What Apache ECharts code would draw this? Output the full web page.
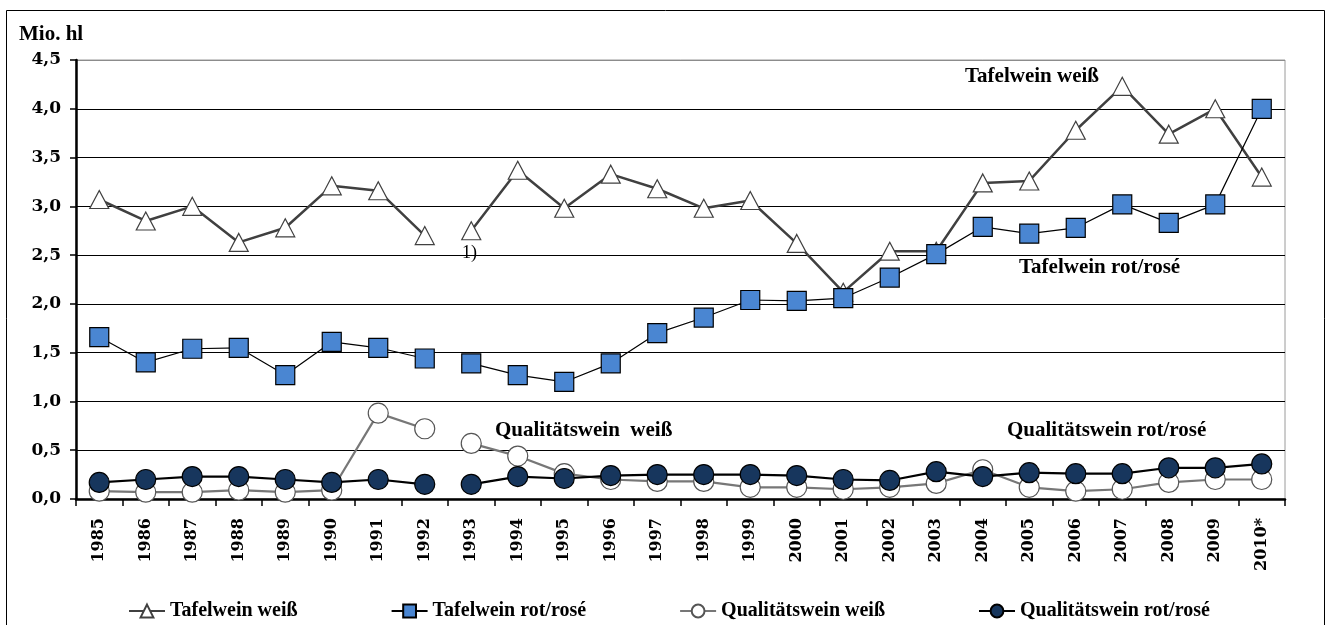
<!DOCTYPE html>
<html>
<head>
<meta charset="utf-8">
<script src="https://cdn.jsdelivr.net/npm/echarts@6/dist/echarts.min.js"></script>
<style>
html,body{margin:0;padding:0;background:#fff;}
#chart{width:1328px;height:625px;}
</style>
</head>
<body>
<div id="chart"></div>
<script>
var categories = ['1985','1986','1987','1988','1989','1990','1991','1992','1993','1994','1995','1996','1997','1998','1999','2000','2001','2002','2003','2004','2005','2006','2007','2008','2009','2010*'];
var tafelWeiss = [3.07,2.85,3.00,2.63,2.78,3.21,3.16,2.70,2.75,3.37,2.98,3.33,3.18,2.98,3.06,2.62,2.12,2.54,2.54,3.24,3.26,3.78,4.23,3.74,4.00,3.30];
var tafelRot   = [1.66,1.40,1.54,1.55,1.27,1.61,1.55,1.44,1.39,1.27,1.20,1.39,1.70,1.86,2.04,2.03,2.06,2.27,2.51,2.79,2.72,2.78,3.02,2.83,3.02,4.00];
var qualWeiss  = [0.08,0.07,0.07,0.09,0.07,0.09,0.88,0.72,0.57,0.44,0.26,0.20,0.18,0.18,0.12,0.12,0.10,0.12,0.16,0.30,0.12,0.08,0.10,0.17,0.20,0.20];
var qualRot    = [0.17,0.20,0.23,0.23,0.20,0.17,0.20,0.15,0.15,0.23,0.21,0.24,0.25,0.25,0.25,0.24,0.20,0.19,0.28,0.23,0.27,0.26,0.26,0.32,0.32,0.36];
var seriesNames = ['Tafelwein weiß','Tafelwein rot/rosé','Qualitätswein weiß','Qualitätswein rot/rosé'];
var yTicks = [0,0.5,1,1.5,2,2.5,3,3.5,4,4.5];
var breakAfter = 7; // line gap between 1992 and 1993

var FONT = '"Liberation Serif","Times New Roman",serif';
var NUMFONT = '"DejaVu Serif","Liberation Serif",serif';

function part(arr, first) {
  return arr.map(function(v,i){ return first ? (i<=breakAfter ? v : null) : (i>breakAfter ? v : null); });
}

var styles = [
  {symbol:'triangle', size:[19,18], line:{color:'#404040', width:2.5}, item:{color:'#ffffff', borderColor:'#404040', borderWidth:1.2}},
  {symbol:'rect', size:19, line:{color:'#000000', width:1.2}, item:{color:'#4a86d2', borderColor:'#000000', borderWidth:1.2}},
  {symbol:'circle', size:20, line:{color:'#777777', width:2.2}, item:{color:'#ffffff', borderColor:'#555555', borderWidth:1.2}},
  {symbol:'circle', size:20, line:{color:'#000000', width:2.2}, item:{color:'#17365d', borderColor:'#000000', borderWidth:1.2}}
];
var dataSets = [tafelWeiss, tafelRot, qualWeiss, qualRot];

var series = [];
dataSets.forEach(function(arr, k){
  [true,false].forEach(function(first){
    series.push({
      name: seriesNames[k],
      type: 'line',
      data: part(arr, first),
      connectNulls: false,
      symbol: styles[k].symbol,
      symbolSize: styles[k].size,
      showAllSymbol: true,
      lineStyle: styles[k].line,
      itemStyle: styles[k].item,
      emphasis: {disabled: true},
      z: 2 + k,
      animation: false
    });
  });
});

var chart = echarts.init(document.getElementById('chart'));
var gridColors = yTicks.map(function(v,i){ return i === yTicks.length-1 ? '#8c8c8c' : '#000000'; });

function txt(x, y, s, font) {
  return {type:'text', x:x, y:y, silent:true, style:{text:s, font:font, fill:'#000', verticalAlign:'middle', align:'left'}};
}

chart.setOption({
  backgroundColor: '#ffffff',
  animation: false,
  textStyle: {fontFamily: FONT},
  grid: {left: 76, right: 43, top: 60, bottom: 126, show: true, borderColor: '#9a9a9a', borderWidth: 1},
  xAxis: {
    type: 'category',
    data: categories,
    boundaryGap: true,
    axisLine: {lineStyle: {color: '#000', width: 2.5}},
    axisTick: {show: true, length: 7, inside: false, alignWithLabel: false, lineStyle: {color: '#000', width: 1.5}},
    axisLabel: {rotate: 90, margin: 19, color: '#000', fontSize: 16, fontWeight: 'bold', fontFamily: NUMFONT, interval: 0}
  },
  yAxis: {
    type: 'value',
    min: 0, max: 4.5, interval: 0.5,
    axisLine: {show: true, lineStyle: {color: '#000', width: 2.5}},
    axisTick: {show: true, length: 6, lineStyle: {color: '#000', width: 1.5}},
    splitLine: {show: true, lineStyle: {color: gridColors, width: 1.2}},
    axisLabel: {margin: 15, color: '#000', fontSize: 17, fontWeight: 'bold', fontFamily: NUMFONT,
      formatter: function(v){ return v.toFixed(1).replace('.', ','); }}
  },
  legend: {
    data: seriesNames,
    left: 123, top: 596,
    itemGap: 93,
    itemWidth: 36, itemHeight: 16,
    textStyle: {color: '#000', fontSize: 20, fontWeight: 'bold', fontFamily: FONT},
    selectedMode: false
  },
  graphic: [
    {type:'rect', shape:{x:6.5, y:10.5, width:1318, height:640}, style:{fill:'none', stroke:'#000', lineWidth:1}, silent:true},
    txt(19, 35, 'Mio. hl', 'bold 21px ' + FONT),
    txt(965, 77, 'Tafelwein weiß', 'bold 21px ' + FONT),
    txt(1019, 268, 'Tafelwein rot/rosé', 'bold 21px ' + FONT),
    txt(495, 431, 'Qualitätswein  weiß', 'bold 21px ' + FONT),
    txt(1007, 431, 'Qualitätswein rot/rosé', 'bold 21px ' + FONT),
    txt(462, 253, '1)', '18px ' + FONT)
  ],
  series: series
});
</script>
</body>
</html>
